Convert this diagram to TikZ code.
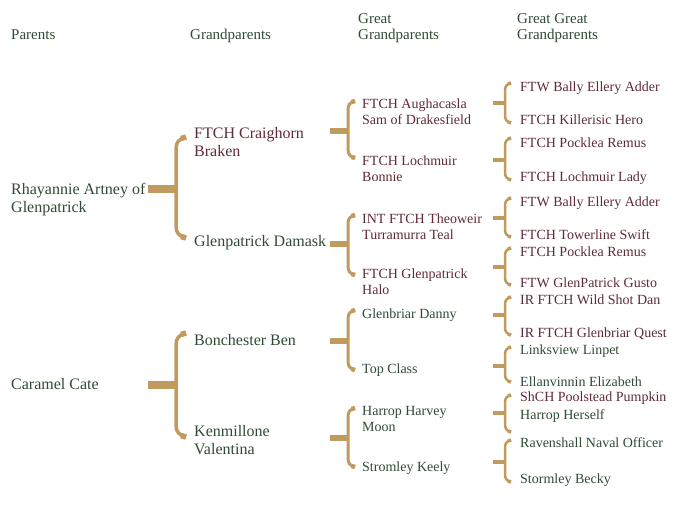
\documentclass[tikz,border=0pt]{standalone}
\usepackage{fontspec}
\setmainfont{Liberation Serif}

\definecolor{pedtan}{HTML}{C19B5E}
\definecolor{pedgreen}{HTML}{2F4B33}
\definecolor{pedred}{HTML}{5E2B35}

\tikzset{
  dog/.style={anchor=north west,inner sep=0pt,align=left},
  head/.style={dog,text=pedgreen,font=\fontsize{15}{16}\selectfont},
  big/.style={dog,font=\fontsize{16}{18}\selectfont},
  small/.style={dog,font=\fontsize{14}{16}\selectfont},
  titled/.style={text=pedred},
  plain/.style={text=pedgreen},
  bigstub/.style={draw=pedtan,line width=8pt},
  bigfork/.style={draw=pedtan,line width=3.5pt},
  bigtip/.style={draw=pedtan,line width=5.5pt},
  midstub/.style={draw=pedtan,line width=6pt},
  midfork/.style={draw=pedtan,line width=3pt},
  midtip/.style={draw=pedtan,line width=4.5pt},
  smallstub/.style={draw=pedtan,line width=4pt},
  smallfork/.style={draw=pedtan,line width=2.5pt},
  smalltip/.style={draw=pedtan,line width=3.5pt}
}

% size, stub start x, fork x, middle y, top y, bottom y, tip
\newcommand\famfork[7]{%
  \draw[#1stub] (#2,#4) -- (#3,#4);
  \draw[#1fork] (#3+#7,#5) .. controls (#3+0.3*#7,#5+0.2*#7) and (#3,#5+0.5*#7) .. (#3,#5+#7+2)
    -- (#3,#6-#7-2) .. controls (#3,#6-0.5*#7) and (#3+0.3*#7,#6-0.2*#7) .. (#3+#7,#6);
  \draw[#1tip] (#3+0.5*#7,#5+0.15*#7) -- (#3+#7,#5);
  \draw[#1tip] (#3+0.5*#7,#6-0.15*#7) -- (#3+#7,#6);
}

\begin{document}
\begin{tikzpicture}[x=1pt,y=-1pt]
\useasboundingbox (0,0) rectangle (700,505);
% column heads
\node[head] (h1) at (11,29) {Parents};
\node[head] (h2) at (190,29) {Grandparents};
\node[head] (h3) at (358,13) {Great\\Grandparents};
\node[head] (h4) at (517,13) {Great Great\\Grandparents};
% parents
\node[big,plain] (p1) at (11,183.4) {Rhayannie Artney of\\Glenpatrick};
\node[big,plain] (p2) at (11,378.4) {Caramel Cate};
% grandparents
\node[big,titled] (g1) at (194,127.4) {FTCH Craighorn\\Braken};
\node[big,plain] (g2) at (194,235.4) {Glenpatrick Damask};
\node[big,plain] (g3) at (194,334.4) {Bonchester Ben};
\node[big,plain] (g4) at (194,425.4) {Kenmillone\\Valentina};
% great grandparents
\node[small,titled] (gg1) at (362,98.1) {FTCH Aughacasla\\Sam of Drakesfield};
\node[small,titled] (gg2) at (362,155.1) {FTCH Lochmuir\\Bonnie};
\node[small,titled] (gg3) at (362,213.1) {INT FTCH Theoweir\\Turramurra Teal};
\node[small,titled] (gg4) at (362,268.1) {FTCH Glenpatrick\\Halo};
\node[small,plain] (gg5) at (362,308.1) {Glenbriar Danny};
\node[small,plain] (gg6) at (362,363.1) {Top Class};
\node[small,plain] (gg7) at (362,406.1) {Harrop Harvey\\Moon};
\node[small,plain] (gg8) at (362,461.1) {Stromley Keely};
% great great grandparents
\node[small,titled] (ggg1) at (520,81.1) {FTW Bally Ellery Adder};
\node[small,titled] (ggg2) at (520,114.1) {FTCH Killerisic Hero};
\node[small,titled] (ggg3) at (520,137.1) {FTCH Pocklea Remus};
\node[small,titled] (ggg4) at (520,171.1) {FTCH Lochmuir Lady};
\node[small,titled] (ggg5) at (520,196.1) {FTW Bally Ellery Adder};
\node[small,titled] (ggg6) at (520,229.1) {FTCH Towerline Swift};
\node[small,titled] (ggg7) at (520,246.1) {FTCH Pocklea Remus};
\node[small,titled] (ggg8) at (520,277.1) {FTW GlenPatrick Gusto};
\node[small,titled] (ggg9) at (520,294.1) {IR FTCH Wild Shot Dan};
\node[small,titled] (ggg10) at (520,327.1) {IR FTCH Glenbriar Quest};
\node[small,plain] (ggg11) at (520,344.1) {Linksview Linpet};
\node[small,plain] (ggg12) at (520,376.1) {Ellanvinnin Elizabeth};
\node[small,titled] (ggg13) at (520,391.1) {ShCH Poolstead Pumpkin};
\node[small,plain] (ggg14) at (520,409.1) {Harrop Herself};
\node[small,plain] (ggg15) at (520,437.1) {Ravenshall Naval Officer};
\node[small,plain] (ggg16) at (520,473.1) {Stormley Becky};
% forks
\famfork{big}{148}{176}{189}{137}{238}{10}
\famfork{big}{148}{176}{385}{333}{437}{10}
\famfork{mid}{330}{348}{131}{101}{158}{7}
\famfork{mid}{330}{348}{244}{215}{275}{7}
\famfork{mid}{330}{348}{341}{310}{370}{7}
\famfork{mid}{330}{348}{438}{408}{467}{7}
\famfork{small}{493}{505}{103}{83}{123}{6}
\famfork{small}{493}{505}{160}{138}{180}{6}
\famfork{small}{493}{505}{218}{198}{237}{6}
\famfork{small}{493}{505}{267}{248}{285}{6}
\famfork{small}{493}{505}{315}{297}{335}{6}
\famfork{small}{493}{505}{366}{347}{382}{6}
\famfork{small}{493}{505}{413}{395}{432}{6}
\famfork{small}{493}{505}{462}{440}{482}{6}
\end{tikzpicture}
\end{document}
